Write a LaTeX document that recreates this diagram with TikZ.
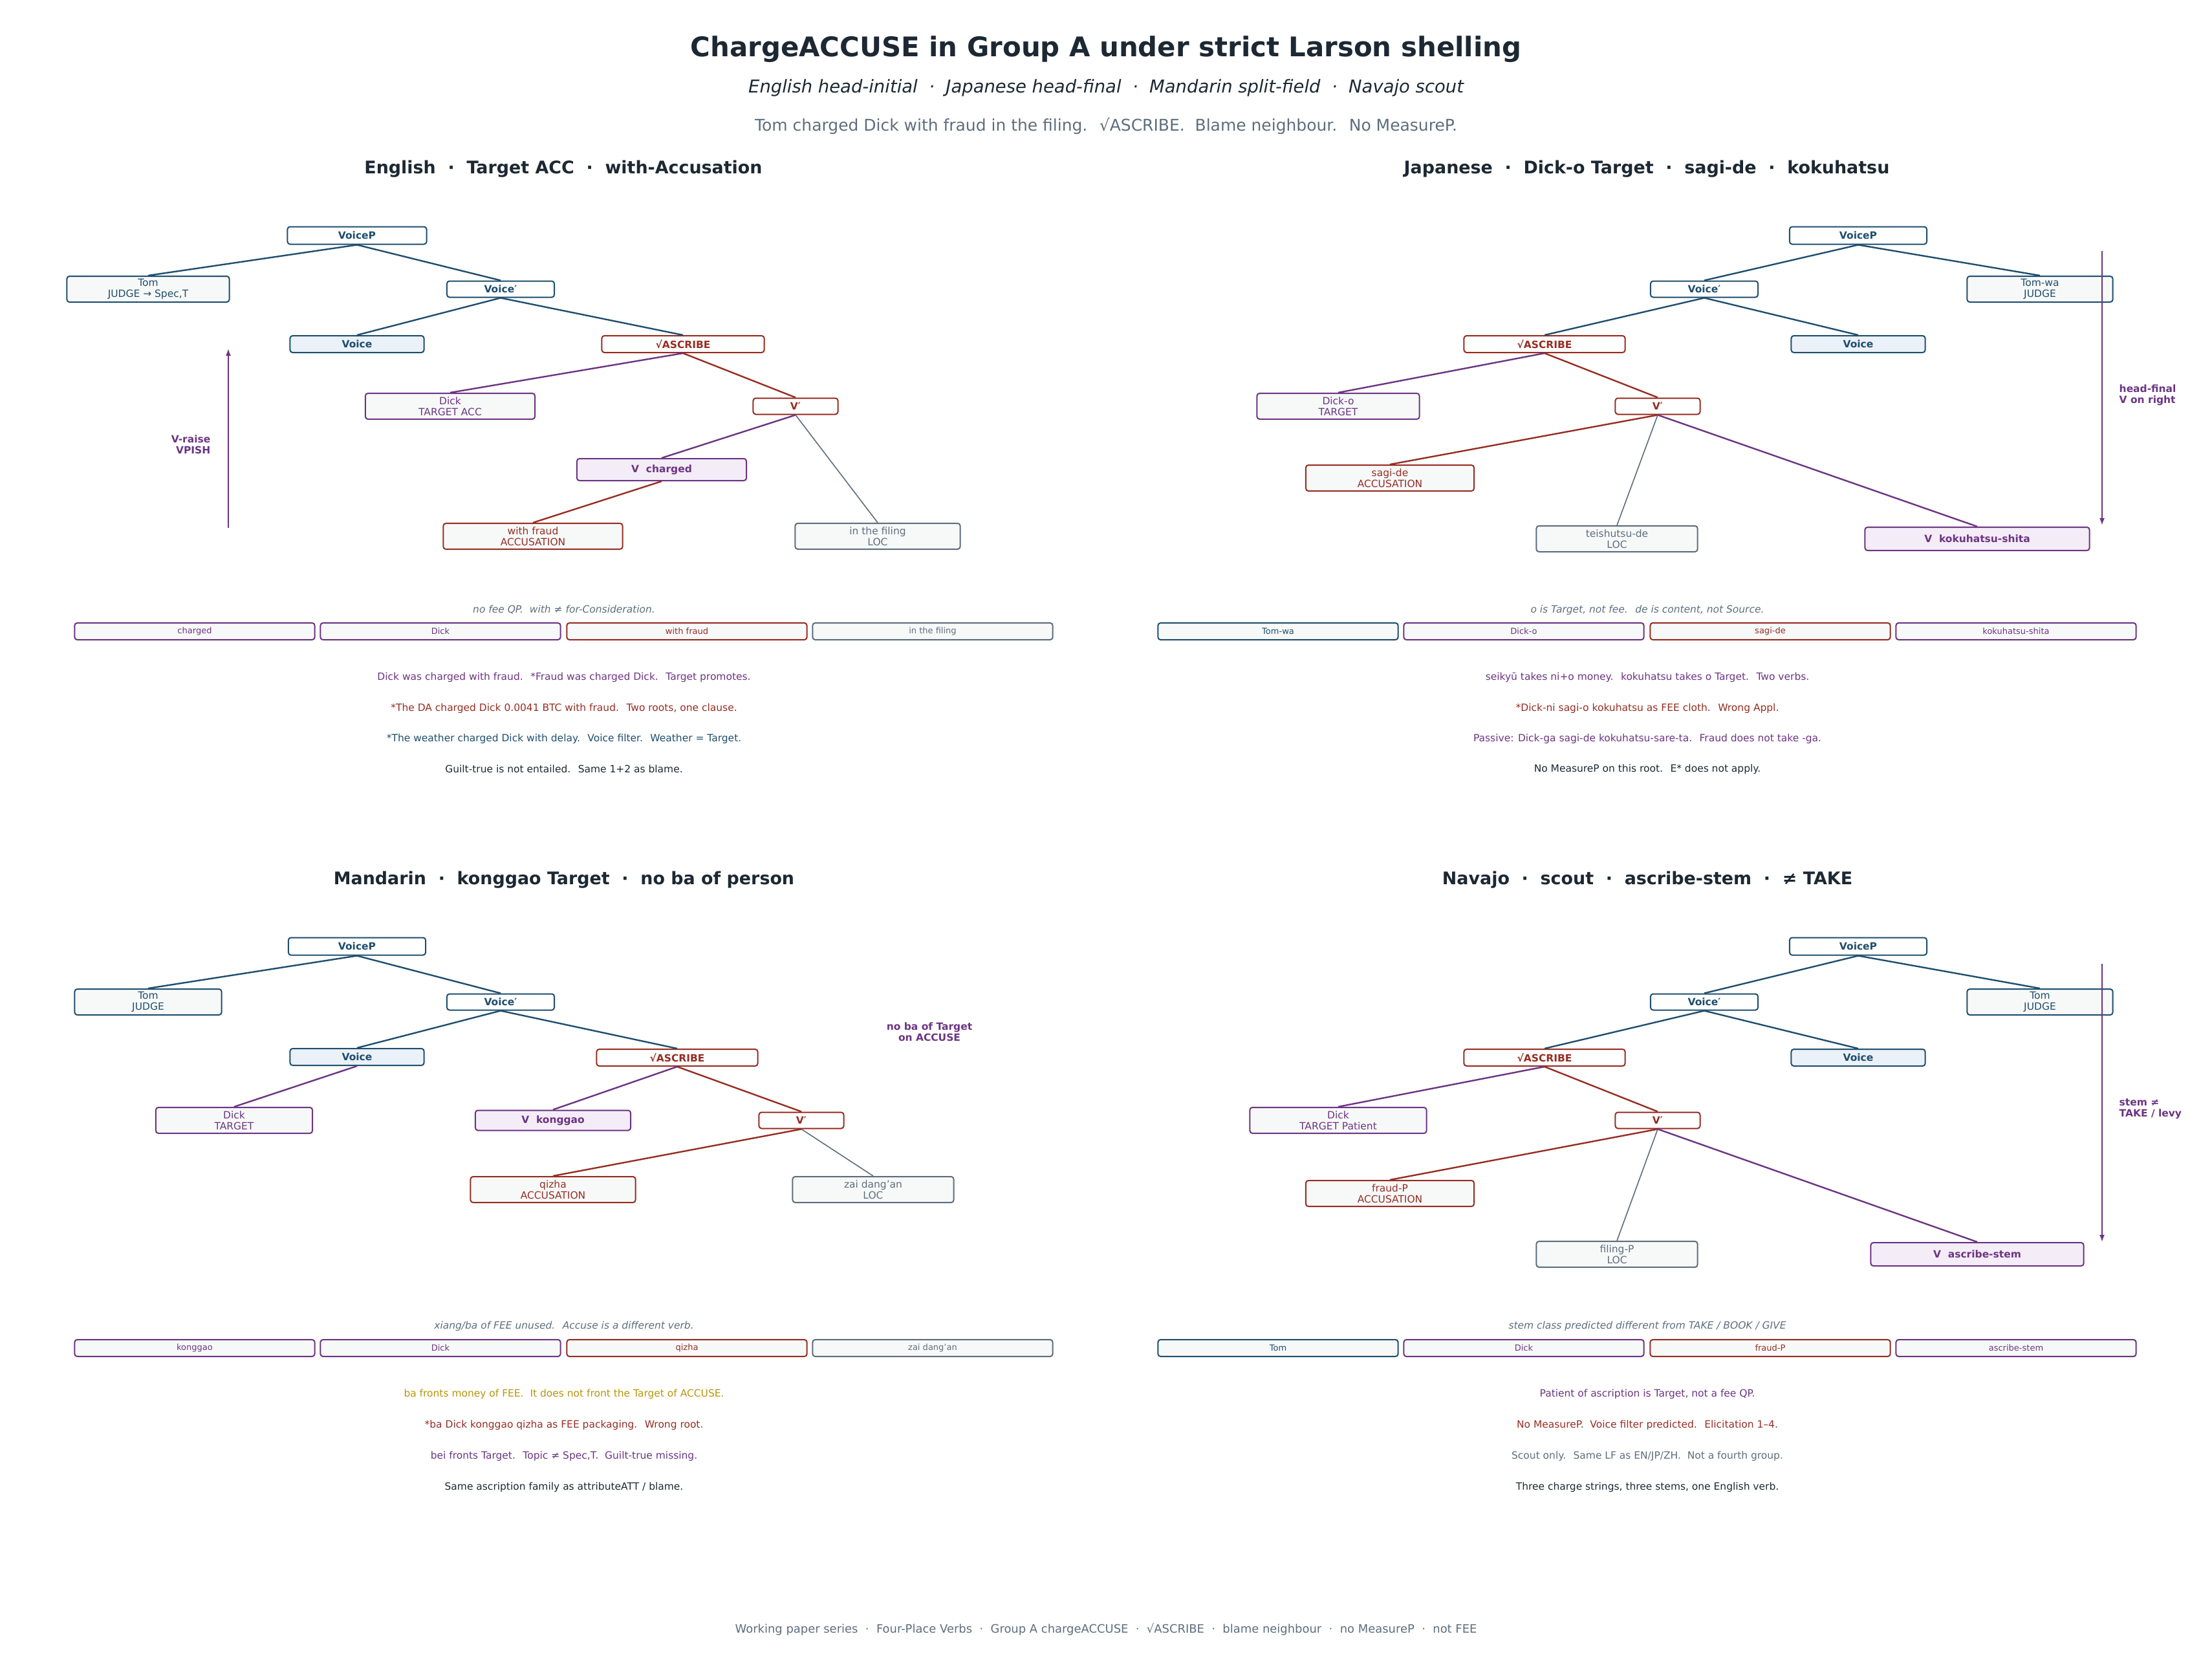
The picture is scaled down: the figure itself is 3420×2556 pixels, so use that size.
\documentclass[tikz,border=0pt]{standalone}
\usepackage{fontspec}
\setmainfont{DejaVu Sans}
\usepackage{xcolor}
\usepackage{tikz}
\usetikzlibrary{arrows.meta}

\definecolor{navy}{HTML}{1F4E6E}
\definecolor{rust}{HTML}{962D22}
\definecolor{plum}{HTML}{6C3483}
\definecolor{slate}{HTML}{5D6D7E}
\definecolor{gold}{HTML}{B7950B}
\definecolor{ink}{HTML}{1C2833}
\definecolor{paper}{HTML}{F7F9F9}
\definecolor{icy}{HTML}{EAF1F8}
\definecolor{lilac}{HTML}{F4ECF7}

\newcommand\bigtitle{\fontsize{11.9}{13}\selectfont\bfseries}
\newcommand\subtitle{\fontsize{7.8}{9}\selectfont}
\newcommand\gistfont{\fontsize{7.1}{8}\selectfont}
\newcommand\paneltitle{\fontsize{7.65}{9}\selectfont\bfseries}
\newcommand\lblfont{\fontsize{4.4}{4.7}\selectfont}
\newcommand\notefont{\fontsize{4.4}{5}\selectfont}
\newcommand\glossfont{\fontsize{3.7}{4.4}\selectfont}

\begin{document}
\begin{tikzpicture}[
            x=0.01cm, y=-0.01cm,
            box/.style={draw,rounded corners=0.04cm,line width=0.02cm,align=center,
                inner sep=0pt,fill=paper,font=\lblfont,minimum height=0.40cm},
            phrase/.style={box,fill=white,font=\lblfont\bfseries,minimum height=0.25cm},
            vhead/.style={box,fill=lilac,font=\lblfont\bfseries,minimum height=0.34cm},
            vcore/.style={box,fill=icy,font=\lblfont\bfseries,minimum height=0.26cm},
            gloss/.style={box,font=\glossfont,minimum height=0.26cm,minimum width=3.71cm},
            cnavy/.style={draw=navy,text=navy},
            crust/.style={draw=rust,text=rust},
            cplum/.style={draw=plum,text=plum},
            cslate/.style={draw=slate,text=slate},
            tie/.style={line width=0.024cm},
            thin/.style={line width=0.016cm,slate},
            move/.style={line width=0.018cm,plum,-{Latex[length=0.11cm,width=0.08cm]}},
            side/.style={font=\lblfont\bfseries,text=plum,align=left,inner sep=0pt},
            note/.style={font=\notefont}
        ]
            \useasboundingbox (0,0) rectangle (3420,2556);

            % Heading
            \node[font=\bigtitle,text=ink] (title) at (1710,76) {ChargeACCUSE in Group A under strict Larson shelling};
            \node[font=\subtitle\itshape,text=ink] (subtitle) at (1710,136) {English head-initial \ · \ Japanese head-final \ · \ Mandarin split-field \ · \ Navajo scout};
            \node[font=\gistfont,text=slate] (gist) at (1710,195) {Tom charged Dick with fraud in the filing. \ √ASCRIBE. \ Blame neighbour. \ No MeasureP.};

            % English
            \node[font=\paneltitle,text=ink] (ETitle) at (871,261) {English \ · \ Target ACC \ · \ with-Accusation};
            \node[phrase,cnavy,minimum width=2.15cm,minimum height=0.27cm] (EVP) at (552,364) {VoiceP};
            \node[box,cnavy,minimum width=2.51cm] (ETom) at (229,447) {Tom\\JUDGE → Spec,T};
            \node[phrase,cnavy,minimum width=1.66cm] (EVbar) at (774,447) {Voice′};
            \node[vcore,cnavy,minimum width=2.07cm] (EVoice) at (552,532) {Voice};
            \node[phrase,crust,minimum width=2.51cm,minimum height=0.26cm] (ERoot) at (1056,532) {√ASCRIBE};
            \node[box,cplum,minimum width=2.62cm] (EDick) at (696,628) {Dick\\TARGET ACC};
            \node[phrase,crust,minimum width=1.31cm] (EV1) at (1230,628) {V′};
            \node[vhead,cplum,minimum width=2.62cm] (EVerb) at (1023,726) {V \ charged};
            \node[box,crust,minimum width=2.77cm] (EAcc) at (824,829) {with fraud\\ACCUSATION};
            \node[box,cslate,minimum width=2.55cm] (ELoc) at (1357,829) {in the filing\\LOC};

            \draw[tie,navy] (EVP.south) -- (ETom.north);
            \draw[tie,navy] (EVP.south) -- (EVbar.north);
            \draw[tie,navy] (EVbar.south) -- (EVoice.north);
            \draw[tie,navy] (EVbar.south) -- (ERoot.north);
            \draw[tie,plum] (ERoot.south) -- (EDick.north);
            \draw[tie,rust] (ERoot.south) -- (EV1.north);
            \draw[tie,plum] (EV1.south) -- (EVerb.north);
            \draw[tie,rust] (EVerb.south) -- (EAcc.north);
            \draw[thin] (EV1.south) -- (ELoc.north);

            \coordinate (ELow) at (353,816);
            \coordinate (EHigh) at (353,539);
            \draw[move] (ELow) -- (EHigh);
            \node[side,align=right,anchor=east] (ERaise) at (326,687) {V-raise\\VPISH};

            % Japanese
            \node[font=\paneltitle,text=ink] (JTitle) at (2546,261) {Japanese \ · \ Dick-o Target \ · \ sagi-de \ · \ kokuhatsu};
            \node[phrase,cnavy,minimum width=2.12cm,minimum height=0.27cm] (JVP) at (2873,364) {VoiceP};
            \node[phrase,cnavy,minimum width=1.66cm] (JVbar) at (2635,447) {Voice′};
            \node[box,cnavy,minimum width=2.25cm] (JTom) at (3154,447) {Tom-wa\\JUDGE};
            \node[phrase,crust,minimum width=2.49cm,minimum height=0.26cm] (JRoot) at (2388,532) {√ASCRIBE};
            \node[vcore,cnavy,minimum width=2.07cm] (JVoice) at (2873,532) {Voice};
            \node[box,cplum,minimum width=2.51cm] (JDick) at (2069,628) {Dick-o\\TARGET};
            \node[phrase,crust,minimum width=1.31cm] (JV1) at (2563,628) {V′};
            \node[box,crust,minimum width=2.60cm] (JAcc) at (2149,739) {sagi-de\\ACCUSATION};
            \node[box,cslate,minimum width=2.49cm] (JLoc) at (2500,833) {teishutsu-de\\LOC};
            \node[vhead,cplum,minimum width=3.47cm,minimum height=0.36cm] (JVerb) at (3057,833) {V \ kokuhatsu-shita};

            \draw[tie,navy] (JVP.south) -- (JVbar.north);
            \draw[tie,navy] (JVP.south) -- (JTom.north);
            \draw[tie,navy] (JVbar.south) -- (JRoot.north);
            \draw[tie,navy] (JVbar.south) -- (JVoice.north);
            \draw[tie,plum] (JRoot.south) -- (JDick.north);
            \draw[tie,rust] (JRoot.south) -- (JV1.north);
            \draw[tie,rust] (JV1.south) -- (JAcc.north);
            \draw[thin] (JV1.south) -- (JLoc.north);
            \draw[tie,plum] (JV1.south) -- (JVerb.north);

            \coordinate (JHigh) at (3250,388);
            \coordinate (JLow) at (3250,812);
            \draw[move] (JHigh) -- (JLow);
            \node[side,anchor=west] (JFinal) at (3276,611) {head-final\\V on right};

            % Mandarin
            \node[font=\paneltitle,text=ink] (MTitle) at (872,1360) {Mandarin \ · \ konggao Target \ · \ no ba of person};
            \node[phrase,cnavy,minimum width=2.12cm,minimum height=0.27cm] (MVP) at (552,1463) {VoiceP};
            \node[box,cnavy,minimum width=2.27cm] (MTom) at (229,1549) {Tom\\JUDGE};
            \node[phrase,cnavy,minimum width=1.66cm] (MVbar) at (774,1549) {Voice′};
            \node[vcore,cnavy,minimum width=2.07cm] (MVoice) at (552,1634) {Voice};
            \node[phrase,crust,minimum width=2.49cm,minimum height=0.26cm] (MRoot) at (1047,1635) {√ASCRIBE};
            \node[box,cplum,minimum width=2.42cm] (MDick) at (362,1732) {Dick\\TARGET};
            \node[vhead,cplum,minimum width=2.40cm,minimum height=0.31cm] (MVerb) at (855,1732) {V \ konggao};
            \node[phrase,crust,minimum width=1.31cm] (MV1) at (1239,1732) {V′};
            \node[box,crust,minimum width=2.55cm] (MAcc) at (855,1839) {qizha\\ACCUSATION};
            \node[box,cslate,minimum width=2.49cm] (MLoc) at (1350,1839) {zai dang'an\\LOC};

            \draw[tie,navy] (MVP.south) -- (MTom.north);
            \draw[tie,navy] (MVP.south) -- (MVbar.north);
            \draw[tie,navy] (MVbar.south) -- (MVoice.north);
            \draw[tie,navy] (MVbar.south) -- (MRoot.north);
            \draw[tie,plum] (MVoice.south) -- (MDick.north);
            \draw[tie,plum] (MRoot.south) -- (MVerb.north);
            \draw[tie,rust] (MRoot.south) -- (MV1.north);
            \draw[tie,rust] (MV1.south) -- (MAcc.north);
            \draw[thin] (MV1.south) -- (MLoc.north);

            \node[side,align=center] (MNoBa) at (1437,1595) {no ba of Target\\on ACCUSE};

            % Navajo
            \node[font=\paneltitle,text=ink] (NTitle) at (2547,1360) {Navajo \ · \ scout \ · \ ascribe-stem \ · \ ≠ TAKE};
            \node[phrase,cnavy,minimum width=2.12cm,minimum height=0.27cm] (NVP) at (2873,1463) {VoiceP};
            \node[phrase,cnavy,minimum width=1.66cm] (NVbar) at (2635,1549) {Voice′};
            \node[box,cnavy,minimum width=2.25cm] (NTom) at (3154,1549) {Tom\\JUDGE};
            \node[phrase,crust,minimum width=2.49cm,minimum height=0.26cm] (NRoot) at (2388,1635) {√ASCRIBE};
            \node[vcore,cnavy,minimum width=2.07cm] (NVoice) at (2873,1635) {Voice};
            \node[box,cplum,minimum width=2.73cm] (NDick) at (2069,1732) {Dick\\TARGET Patient};
            \node[phrase,crust,minimum width=1.31cm] (NV1) at (2563,1732) {V′};
            \node[box,crust,minimum width=2.60cm] (NAcc) at (2149,1845) {fraud-P\\ACCUSATION};
            \node[box,cslate,minimum width=2.49cm] (NLoc) at (2500,1939) {filing-P\\LOC};
            \node[vhead,cplum,minimum width=3.29cm,minimum height=0.36cm] (NVerb) at (3057,1939) {V \ ascribe-stem};

            \draw[tie,navy] (NVP.south) -- (NVbar.north);
            \draw[tie,navy] (NVP.south) -- (NTom.north);
            \draw[tie,navy] (NVbar.south) -- (NRoot.north);
            \draw[tie,navy] (NVbar.south) -- (NVoice.north);
            \draw[tie,plum] (NRoot.south) -- (NDick.north);
            \draw[tie,rust] (NRoot.south) -- (NV1.north);
            \draw[tie,rust] (NV1.south) -- (NAcc.north);
            \draw[thin] (NV1.south) -- (NLoc.north);
            \draw[tie,plum] (NV1.south) -- (NVerb.north);

            \coordinate (NHigh) at (3250,1490);
            \coordinate (NLow) at (3250,1920);
            \draw[move] (NHigh) -- (NLow);
            \node[side,anchor=west] (NStem) at (3276,1714) {stem ≠\\TAKE / levy};

            % Word strips
            \node[note,font=\notefont\itshape,text=slate] (ECap) at (872,943) {no fee QP. \ with ≠ for-Consideration.};
            \node[note,font=\notefont\itshape,text=slate] (JCap) at (2547,943) {o is Target, not fee. \ de is content, not Source.};
            \node[note,font=\notefont\itshape,text=slate] (MCap) at (872,2050) {xiang/ba of FEE unused. \ Accuse is a different verb.};
            \node[note,font=\notefont\itshape,text=slate] (NCap) at (2547,2050) {stem class predicted different from TAKE / BOOK / GIVE};

            \foreach \x/\w/\c [count=\i] in {301/charged/cplum, 681/Dick/cplum, 1062/with fraud/crust, 1442/in the filing/cslate}
                \node[gloss,\c] (EW\i) at (\x,976) {\w};
            \foreach \x/\w/\c [count=\i] in {1976/Tom-wa/cnavy, 2356/Dick-o/cplum, 2737/sagi-de/crust, 3117/kokuhatsu-shita/cplum}
                \node[gloss,\c] (JW\i) at (\x,976) {\w};
            \foreach \x/\w/\c [count=\i] in {301/konggao/cplum, 681/Dick/cplum, 1062/qizha/crust, 1442/zai dang'an/cslate}
                \node[gloss,\c] (MW\i) at (\x,2084) {\w};
            \foreach \x/\w/\c [count=\i] in {1976/Tom/cnavy, 2356/Dick/cplum, 2737/fraud-P/crust, 3117/ascribe-stem/cplum}
                \node[gloss,\c] (NW\i) at (\x,2084) {\w};

            % Notes
            \node[note,text=plum] (EN1) at (872,1047) {Dick was charged with fraud. \ *Fraud was charged Dick. \ Target promotes.};
            \node[note,text=rust] (EN2) at (872,1095) {*The DA charged Dick 0.0041 BTC with fraud. \ Two roots, one clause.};
            \node[note,text=navy] (EN3) at (872,1142) {*The weather charged Dick with delay. \ Voice filter. \ Weather = Target.};
            \node[note,text=ink] (EN4) at (872,1189) {Guilt-true is not entailed. \ Same 1+2 as blame.};

            \node[note,text=plum] (JN1) at (2547,1047) {seikyū takes ni+o money. \ kokuhatsu takes o Target. \ Two verbs.};
            \node[note,text=rust] (JN2) at (2547,1095) {*Dick-ni sagi-o kokuhatsu as FEE cloth. \ Wrong Appl.};
            \node[note,text=plum] (JN3) at (2547,1142) {Passive: Dick-ga sagi-de kokuhatsu-sare-ta. \ Fraud does not take -ga.};
            \node[note,text=ink] (JN4) at (2547,1189) {No MeasureP on this root. \ E* does not apply.};

            \node[note,text=gold] (MN1) at (872,2155) {ba fronts money of FEE. \ It does not front the Target of ACCUSE.};
            \node[note,text=rust] (MN2) at (872,2203) {*ba Dick konggao qizha as FEE packaging. \ Wrong root.};
            \node[note,text=plum] (MN3) at (872,2251) {bei fronts Target. \ Topic ≠ Spec,T. \ Guilt-true missing.};
            \node[note,text=ink] (MN4) at (872,2299) {Same ascription family as attributeATT / blame.};

            \node[note,text=plum] (NN1) at (2547,2155) {Patient of ascription is Target, not a fee QP.};
            \node[note,text=rust] (NN2) at (2547,2203) {No MeasureP. \ Voice filter predicted. \ Elicitation 1–4.};
            \node[note,text=slate] (NN3) at (2547,2251) {Scout only. \ Same LF as EN/JP/ZH. \ Not a fourth group.};
            \node[note,text=ink] (NN4) at (2547,2299) {Three charge strings, three stems, one English verb.};

            % Footer
            \node[font=\fontsize{5.1}{6}\selectfont,text=slate] (footer) at (1710,2519) {Working paper series \ · \ Four-Place Verbs \ · \ Group A chargeACCUSE \ · \ √ASCRIBE \ · \ blame neighbour \ · \ no MeasureP \ · \ not FEE};
        \end{tikzpicture}
\end{document}
